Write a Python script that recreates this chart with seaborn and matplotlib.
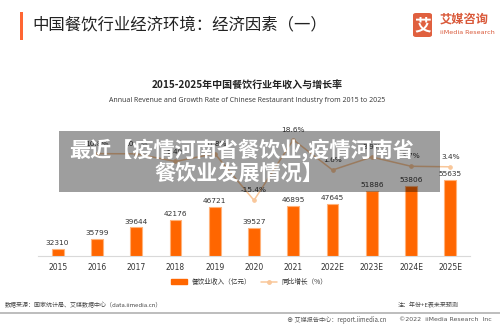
import matplotlib
matplotlib.use("Agg")
import matplotlib.pyplot as plt
import seaborn as sns
import numpy as np
import pandas as pd
from matplotlib.patches import Rectangle, FancyBboxPatch
from matplotlib.lines import Line2D

years = ["2015", "2016", "2017", "2018", "2019", "2020", "2021", "2022E", "2023E", "2024E", "2025E"]
revenue = [32310, 35799, 39644, 42176, 46721, 39527, 46895, 47645, 51886, 53806, 55635]
growth_years = ["2016", "2017", "2018", "2019", "2020", "2021", "2022E", "2023E", "2024E", "2025E"]
growth = [10.8, 10.7, 6.4, 10.8, -15.4, 18.6, 1.6, 8.9, 3.7, 3.4]

title = "中国餐饮行业经济环境：经济因素（一）"
chart_title = "2015-2025年中国餐饮行业年收入与增长率"
chart_subtitle = "Annual Revenue and Growth Rate of Chinese Restaurant Industry from 2015 to 2025"
legend_labels = ["餐饮业收入（亿元）", "同比增长（%）"]
overlay_lines = ["最近【疫情河南省餐饮业,疫情河南省", "餐饮业发展情况】"]
source_text = "数据来源：国家统计局、艾媒数据中心（data.iimedia.cn）"
note_text = "注：年份+E表未来预测"
footer_left = "艾媒报告中心：report.iimedia.cn"
footer_right = "©2022  iiMedia Research  Inc"

sns.set_theme(style="white")
plt.rcParams['font.family'] = ['Noto Sans CJK SC', 'DejaVu Sans']

W, H = 500, 325
fig = plt.figure(figsize=(5, 3.25), dpi=100)
fig.patch.set_facecolor("white")

def fx(px):
    return px / W

def fy(py):
    return 1 - py / H

# axes: left 38px, right 470px, top 120px, bottom 256px
ax = fig.add_axes([fx(38), fy(256), fx(470 - 38), (256 - 120) / H])
df = pd.DataFrame({"year": years, "revenue": revenue})
sns.barplot(data=df, x="year", y="revenue", order=years, color="#ff6600",
            width=0.3, edgecolor="#ffb27a", linewidth=0.8, saturation=1, ax=ax)
ax.set_xlim(-0.5, 10.5)
ax.set_ylim(30000, 75946)
ax.set_xlabel("")
ax.set_ylabel("")
ax.set_yticks([])
for s in ["top", "right", "left"]:
    ax.spines[s].set_visible(False)
ax.spines["bottom"].set_color("#d9d9d9")
ax.spines["bottom"].set_linewidth(0.8)
ax.tick_params(axis="x", length=0, pad=5, labelsize=5.5, labelcolor="#333333")
for lab in ax.get_xticklabels():
    lab.set_fontfamily(['DejaVu Sans'])
for c in ax.containers:
    ax.bar_label(c, labels=[str(v) for v in revenue], padding=2, fontsize=5.3,
                 color="#333333", family=['DejaVu Sans'])

ax2 = ax.twinx()
gdf = pd.DataFrame({"year": growth_years, "growth": growth})
sns.pointplot(data=gdf, x="year", y="growth", order=years, color="#f9c79a",
              markers="o", markersize=2.5, linewidth=1.1, ax=ax2)
ax2.set_xlim(-0.5, 10.5)
ax2.set_ylim(-46.7, 29.7)
ax2.set_yticks([])
ax2.set_xlabel("")
ax2.set_ylabel("")
for s in ["top", "right", "left", "bottom"]:
    ax2.spines[s].set_visible(False)
for yr, g in zip(growth_years, growth):
    ax2.annotate(f"{g}%", (years.index(yr), g), xytext=(0, 5), textcoords="offset points",
                 ha="center", va="bottom", fontsize=5.3, color="#333333", family=['DejaVu Sans'])

# header
fig.add_artist(Rectangle((fx(20), fy(40)), fx(3), 28 / H, transform=fig.transFigure,
                         color="#ff6633", lw=0))
fig.text(fx(32), fy(25), title, fontsize=11.8, color="#222222", va="center", ha="left")

# logo
fig.add_artist(FancyBboxPatch((fx(413), fy(37)), fx(19), 24 / H,
                              boxstyle="round,pad=0,rounding_size=0.006",
                              transform=fig.transFigure, color="#e0603f", lw=0))
fig.text(fx(422.5), fy(25), "艾", fontsize=12, color="white", weight="bold", ha="center", va="center")
fig.text(fx(440), fy(19), "艾媒咨询", fontsize=8.8, color="#d9593a", weight="bold", ha="left", va="center")
fig.text(fx(440), fy(32), "iiMedia Research", fontsize=4.6, color="#d9593a", ha="left", va="center",
         family=['DejaVu Sans'])

# chart titles
fig.text(fx(247), fy(85), chart_title, fontsize=7.2, weight="bold", color="#222222",
         ha="center", va="center")
fig.text(fx(247), fy(100), chart_subtitle, fontsize=5.0, color="#333333",
         ha="center", va="center", family=['Open Sans', 'DejaVu Sans'])

# legend
handles = [Rectangle((0, 0), 1, 1, color="#ff6600"),
           Line2D([0], [0], color="#f9c79a", lw=1.1, marker="o", markersize=2.5)]
fig.legend(handles, legend_labels, loc="center", bbox_to_anchor=(fx(249), fy(282)),
           ncol=2, frameon=False, fontsize=4.8, handlelength=2.4, handleheight=0.7,
           columnspacing=1.4, handletextpad=0.7, labelcolor="#333333")

# footer
fig.text(fx(5), fy(305), source_text, fontsize=4.3, color="#444444", ha="left", va="center")
fig.text(fx(398), fy(305), note_text, fontsize=4.3, color="#444444", ha="left", va="center")
fig.add_artist(Line2D([0, 1], [fy(313), fy(313)], transform=fig.transFigure,
                      color="#bdbdbd", lw=1.4))
fig.text(fx(287), fy(319.5), "⊕ " + footer_left, fontsize=4.4, color="#555555", ha="left", va="center",
         family=['Noto Sans CJK SC', 'DejaVu Sans'])
fig.text(fx(492), fy(319.5), footer_right, fontsize=4.5, color="#555555", ha="right", va="center",
         family=['DejaVu Sans'])

# overlay banner
fig.add_artist(Rectangle((fx(59), fy(192)), fx(381), 61 / H, transform=fig.transFigure,
                         facecolor="black", alpha=0.38, lw=0, zorder=10))
fig.text(fx(242), fy(150), overlay_lines[0], fontsize=15.2, weight="bold", color="white",
         ha="center", va="center", zorder=11)
fig.text(fx(239), fy(173), overlay_lines[1], fontsize=15.2, weight="bold", color="white",
         ha="center", va="center", zorder=11)

fig.savefig("out.png", dpi=100, facecolor="white")
